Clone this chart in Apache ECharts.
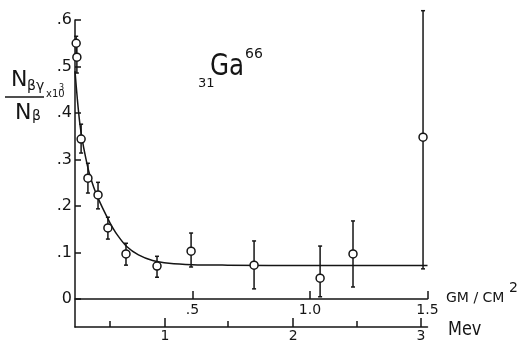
<!DOCTYPE html>
<html>
<head>
<meta charset="utf-8">
<script src="https://cdn.jsdelivr.net/npm/echarts@6/dist/echarts.min.js"></script>
<style>
html, body { margin: 0; padding: 0; background: #fff; }
#chart { width: 524px; height: 343px; }
</style>
</head>
<body>
<div id="chart"></div>
<script>
// measured points (x in GM/cm2, ratio x10^3) with error bar ends
var pointX  = [0.005, 0.008, 0.026, 0.055, 0.098, 0.140, 0.217, 0.349, 0.494, 0.762, 1.043, 1.183, 1.481];
var pointY  = [0.550, 0.520, 0.344, 0.260, 0.224, 0.153, 0.097, 0.071, 0.103, 0.073, 0.045, 0.097, 0.348];
var errLow  = [0.520, 0.486, 0.314, 0.228, 0.194, 0.129, 0.073, 0.047, 0.069, 0.022, 0.005, 0.026, 0.065];
var errHigh = [0.565, 0.550, 0.376, 0.292, 0.251, 0.176, 0.120, 0.092, 0.142, 0.125, 0.114, 0.168, 0.620];

// drawn curve
var curveX = [0, 0.010, 0.020, 0.030, 0.045, 0.060, 0.080, 0.100, 0.125, 0.150, 0.180, 0.220, 0.270, 0.330, 0.400, 0.500, 0.650, 1.000, 1.500];
var curveY = [0.490, 0.430, 0.380, 0.345, 0.305, 0.272, 0.240, 0.215, 0.188, 0.163, 0.138, 0.113, 0.095, 0.083, 0.077, 0.074, 0.073, 0.072, 0.072];

// axis ticks
var yTicks = [0, 0.1, 0.2, 0.3, 0.4, 0.5, 0.6];
var gmTicks = [0.5, 1.0, 1.5];
var gmLabels = ['.5', '1.0', '1.5'];
var mevLabels = ['1', '2', '3'];
var mevTickAt = [0.383, 0.928, 1.472];   // where the MeV marks sit on the GM scale
var mevMinorAt = [0.149, 0.651, 1.200];

var ink = '#151515';
var font = 'DejaVu Sans';

var myChart = echarts.init(document.getElementById('chart'));

function labelFor(v, at, names) {
	for (var i = 0; i < at.length; i++) {
		if (Math.abs(at[i] - v) < 0.01) return names[i];
	}
	return '';
}

var option = {
	backgroundColor: '#fff',
	animation: false,
	grid: { left: 75, right: 96.5, top: 20, bottom: 16 },
	xAxis: [
		{
			// GM / CM2 scale, pulled up onto the zero line
			type: 'value', min: 0, max: 1.5, position: 'bottom', offset: -28,
			axisLine: { onZero: false, lineStyle: { color: ink, width: 1.5 } },
			axisTick: { inside: true, length: 8, customValues: gmTicks, lineStyle: { color: ink, width: 1.5 } },
			axisLabel: {
				customValues: gmTicks, margin: 4, color: ink, fontSize: 14, fontFamily: font,
				formatter: function (v) { return labelFor(v, gmTicks, gmLabels); }
			},
			splitLine: { show: false }
		},
		{
			// MeV scale along the bottom
			type: 'value', min: 0, max: 1.5, position: 'bottom', offset: 0,
			axisLine: { onZero: false, lineStyle: { color: ink, width: 1.5 } },
			axisTick: { inside: true, length: 9, customValues: mevTickAt, lineStyle: { color: ink, width: 1.5 } },
			axisLabel: {
				customValues: mevTickAt, margin: 2, color: ink, fontSize: 14, fontFamily: font,
				formatter: function (v) { return labelFor(v, mevTickAt, mevLabels); }
			},
			splitLine: { show: false }
		},
		{
			type: 'value', min: 0, max: 1.5, position: 'bottom', offset: 0,
			axisLine: { show: false, onZero: false },
			axisTick: { inside: true, length: 6, customValues: mevMinorAt, lineStyle: { color: ink, width: 1.5 } },
			axisLabel: { show: false },
			splitLine: { show: false }
		}
	],
	yAxis: {
		type: 'value', min: -0.06, max: 0.6,
		axisLine: { show: true, onZero: false, lineStyle: { color: ink, width: 1.5 } },
		axisTick: { inside: true, length: 6, customValues: yTicks, lineStyle: { color: ink, width: 1.5 } },
		axisLabel: {
			customValues: yTicks, margin: 3, color: ink, fontSize: 16, fontFamily: font,
			formatter: function (v) { return v === 0 ? '0' : '.' + Math.round(v * 10); }
		},
		splitLine: { show: false }
	},
	graphic: [
		{ type: 'text', left: 11, top: 69, style: { text: 'N', font: '22px ' + font, fill: ink } },
		{ type: 'text', left: 27, top: 79, style: { text: 'βγ', font: '14px ' + font, fill: ink } },
		{ type: 'text', left: 46, top: 89, style: { text: 'x10', font: '10px ' + font, fill: ink } },
		{ type: 'text', left: 59, top: 84, style: { text: '3', font: '8px ' + font, fill: ink } },
		{ type: 'line', shape: { x1: 5, y1: 97, x2: 44, y2: 97 }, style: { stroke: ink, lineWidth: 1.5 } },
		{ type: 'text', left: 15, top: 102, style: { text: 'N', font: '22px ' + font, fill: ink } },
		{ type: 'text', left: 32, top: 109, style: { text: 'β', font: '14px ' + font, fill: ink } },
		{ type: 'text', left: 198, top: 77, style: { text: '31', font: '13px ' + font, fill: ink } },
		{ type: 'text', x: 210, y: 52, scaleX: 0.82, style: { text: 'Ga', font: '30px ' + font, fill: ink } },
		{ type: 'text', x: 245, y: 47, style: { text: '66', font: '14px ' + font, fill: ink } },
		{ type: 'text', left: 446, top: 291, style: { text: 'GM / CM', font: '14px ' + font, fill: ink } },
		{ type: 'text', left: 509, top: 281, style: { text: '2', font: '14px ' + font, fill: ink } },
		{ type: 'text', x: 448, y: 321, scaleX: 0.85, style: { text: 'Mev', font: '19px ' + font, fill: ink } }
	],
	series: [
		{
			type: 'line', xAxisIndex: 0, smooth: 0.3, showSymbol: false,
			lineStyle: { color: ink, width: 1.5 },
			data: curveX.map(function (x, i) { return [x, curveY[i]]; }),
			z: 2
		},
		{
			type: 'custom', xAxisIndex: 0, clip: false,
			data: pointX.map(function (x, i) { return [x, errLow[i], errHigh[i]]; }),
			renderItem: function (params, api) {
				var lo = api.coord([api.value(0), api.value(1)]);
				var hi = api.coord([api.value(0), api.value(2)]);
				var st = { stroke: ink, lineWidth: 1.5 };
				return {
					type: 'group',
					children: [
						{ type: 'line', shape: { x1: lo[0], y1: lo[1], x2: hi[0], y2: hi[1] }, style: st },
						{ type: 'line', shape: { x1: lo[0] - 2, y1: lo[1], x2: lo[0] + 2, y2: lo[1] }, style: st },
						{ type: 'line', shape: { x1: hi[0] - 2, y1: hi[1], x2: hi[0] + 2, y2: hi[1] }, style: st }
					]
				};
			},
			z: 3
		},
		{
			type: 'scatter', xAxisIndex: 0, symbol: 'circle', symbolSize: 8,
			itemStyle: { color: '#fff', borderColor: ink, borderWidth: 1.5, opacity: 1 },
			data: pointX.map(function (x, i) { return [x, pointY[i]]; }),
			z: 4
		}
	]
};

myChart.setOption(option);
</script>
</body>
</html>
